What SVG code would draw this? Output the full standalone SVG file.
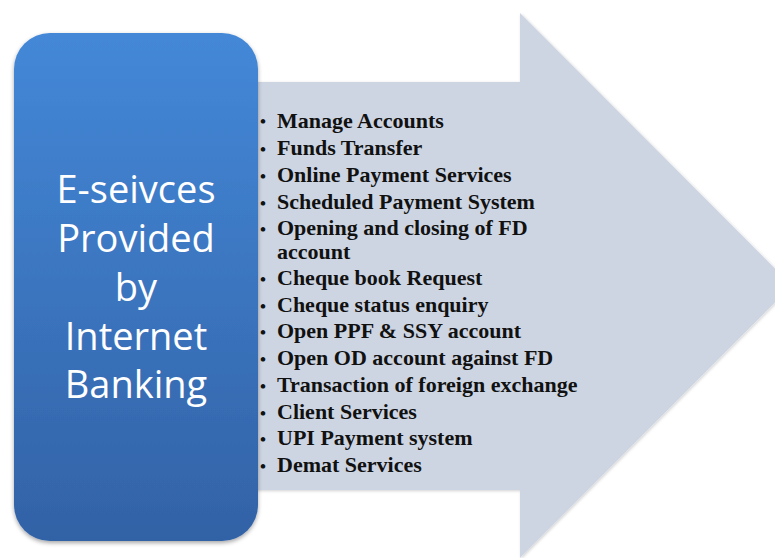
<svg xmlns="http://www.w3.org/2000/svg" width="775" height="558" viewBox="0 0 775 558">
  <defs>
    <linearGradient id="boxGrad" x1="0" y1="0" x2="0" y2="1">
      <stop offset="0" stop-color="#4488d8"/>
      <stop offset="1" stop-color="#3262a6"/>
    </linearGradient>
    <filter id="shadow" x="-10%" y="-10%" width="120%" height="120%">
      <feDropShadow dx="0" dy="2" stdDeviation="2" flood-color="#000" flood-opacity="0.35"/>
    </filter>
    <filter id="softShadow" x="-10%" y="-10%" width="120%" height="120%">
      <feDropShadow dx="1" dy="1" stdDeviation="1.5" flood-color="#000" flood-opacity="0.18"/>
    </filter>
  </defs>
  <style>
    .title { font-family: "Open Sans", "Liberation Sans", sans-serif; font-size: 38px; fill: #ffffff; text-anchor: middle; }
    .item { font-family: "Liberation Serif", "Times New Roman", serif; font-size: 22px; font-weight: bold; fill: #111111; }
    .bullet { font-family: "Liberation Serif", serif; font-size: 17px; font-weight: bold; fill: #111111; }
  </style>
  <rect width="775" height="558" fill="#ffffff"/>

  <g id="arrow">
    <path d="M250,82 L520,82 L520,13 L792,285.5 L520,558 L520,490 L250,490 Z" fill="#cdd5e3" filter="url(#softShadow)"/>
  </g>

  <g id="services-list">
    <g class="bullet">
      <text x="260" y="127">•</text>
      <text x="260" y="155">•</text>
      <text x="260" y="182">•</text>
      <text x="260" y="209">•</text>
      <text x="260" y="235">•</text>
      <text x="260" y="285">•</text>
      <text x="260" y="312">•</text>
      <text x="260" y="338">•</text>
      <text x="260" y="365">•</text>
      <text x="260" y="392">•</text>
      <text x="260" y="419">•</text>
      <text x="260" y="445">•</text>
      <text x="260" y="472">•</text>
    </g>
    <g class="item">
      <text x="277" y="128">Manage Accounts</text>
      <text x="277" y="155">Funds Transfer</text>
      <text x="277" y="182">Online Payment Services</text>
      <text x="277" y="209">Scheduled Payment System</text>
      <text x="277" y="235">Opening and closing of FD</text>
      <text x="277" y="259">account</text>
      <text x="277" y="285">Cheque book Request</text>
      <text x="277" y="312">Cheque status enquiry</text>
      <text x="277" y="338">Open PPF &amp; SSY account</text>
      <text x="277" y="365">Open OD account against FD</text>
      <text x="277" y="392">Transaction of foreign exchange</text>
      <text x="277" y="419">Client Services</text>
      <text x="277" y="445">UPI Payment system</text>
      <text x="277" y="472">Demat Services</text>
    </g>
  </g>

  <g id="title-box">
    <rect x="14" y="33" width="244" height="508" rx="36" ry="36" fill="url(#boxGrad)" filter="url(#shadow)"/>
    <text class="title" x="136" y="203">E-seivces</text>
    <text class="title" x="136" y="252">Provided</text>
    <text class="title" x="136" y="301">by</text>
    <text class="title" x="136" y="350">Internet</text>
    <text class="title" x="136" y="398">Banking</text>
  </g>
  <g id="connectors"/>
</svg>
